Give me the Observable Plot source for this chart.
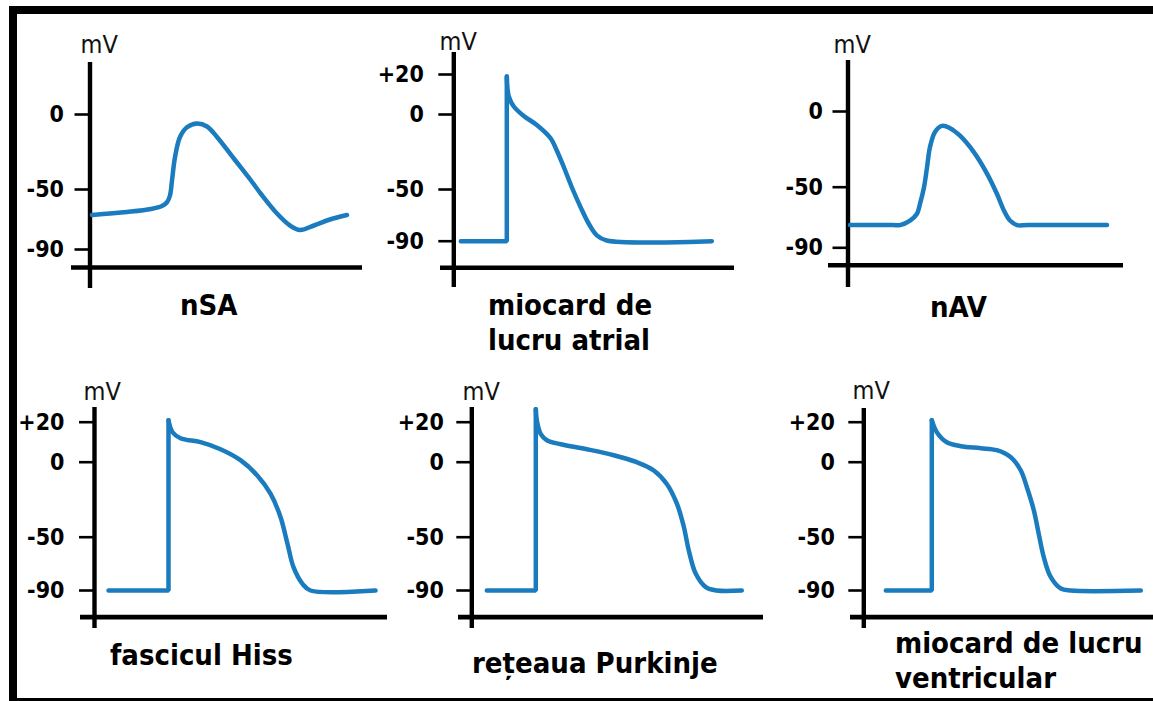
<!DOCTYPE html>
<html>
<head>
<meta charset="utf-8">
<script src="https://cdn.jsdelivr.net/npm/d3@7"></script>
<script src="https://cdn.jsdelivr.net/npm/@observablehq/plot@0.6"></script>
<style>
html, body { margin: 0; padding: 0; background: #fff; }
#stage { position: relative; width: 1153px; height: 701px; overflow: hidden; background: #fff; }
.bar { position: absolute; background: #000; }
.panel { position: absolute; }
.title { position: absolute; font-family: "DejaVu Sans Condensed", "DejaVu Sans", sans-serif; font-stretch: condensed;
  font-weight: bold; font-size: 29px; line-height: 35px; color: #000; white-space: pre; }
</style>
</head>
<body>
<div id="stage">
  <div class="bar" style="left:9px;top:6px;width:1144px;height:8px"></div>
  <div class="bar" style="left:9px;top:6px;width:8px;height:695px"></div>
  <div class="bar" style="left:9px;top:698px;width:1144px;height:3px"></div>
</div>
<script>
// ---------- DATA ----------
const panelTitles = ["nSA", "miocard de\nlucru atrial", "nAV", "fascicul Hiss", "rețeaua Purkinje", "miocard de lucru\nventricular"];
const unitLabel = "mV";

// time (arbitrary units) and membrane potential (mV) for each tissue
const nsaTime = [2, 37, 61, 72, 77, 80, 82, 85, 90, 97, 107, 117, 127, 144, 161, 171, 187, 200, 210, 224, 240, 257];
const nsaMv   = [-67, -65, -63, -61, -58.5, -54, -44, -28.5, -15, -8.5, -6, -8, -15, -29.5, -44, -53, -66, -74, -77, -74, -70, -67];

const atrialTime = [7, 53, 53, 55, 60, 70, 83, 97, 103, 110, 118, 127, 135, 143, 153, 258];
const atrialMv   = [-90, -90, 19, 9, 4, -1, -7, -16, -24, -35, -48.5, -64, -76.5, -85.5, -89.5, -90];

const navTime = [2, 45, 52, 62, 69, 72, 76, 79, 82, 87, 94, 102, 112, 126, 139, 149, 156, 162, 169, 180, 259];
const navMv   = [-75, -75, -75, -72, -67.5, -61, -50, -37, -23.5, -13.5, -9.5, -11, -16, -27, -41, -54.5, -65.5, -72, -75, -75, -75];

const hissTime = [14, 74, 74, 78, 86, 106, 126, 146, 163, 176, 186, 193, 199, 208, 216, 281];
const hissMv   = [-90, -90, 21, 15, 12, 10, 6.5, 1, -9, -21, -36.5, -55, -72.5, -85, -90, -90];

const purkinjeTime = [15, 64, 64, 65, 69, 75, 89, 115, 142, 165, 182, 195, 205, 212, 217, 224, 234, 245, 270];
const purkinjeMv   = [-90, -90, 26.5, 21, 14, 11, 9, 6.5, 3.5, 0, -5.5, -14.5, -27.5, -43, -60, -77.5, -87.5, -90, -90];

const ventrTime = [22, 68, 68, 73, 83, 97, 117, 133, 147, 157, 163, 170, 175, 180, 187, 197, 207, 277];
const ventrMv   = [-90, -90, 21, 15, 10, 8, 7, 6, 2.5, -5.5, -16.5, -32, -48, -65, -80, -88.5, -90, -90];

const ticksShort = [0, -50, -90];
const ticksLong = [20, 0, -50, -90];
const tickLabelsShort = ["0", "-50", "-90"];
const tickLabelsLong = ["+20", "0", "-50", "-90"];

// level (mV) at which the horizontal time axis is drawn
const xAxisLevel = [-102, -110.5, -101.5, -110, -110, -110];

const series = [
  {time: nsaTime, mv: nsaMv, ticks: ticksShort, labels: tickLabelsShort},
  {time: atrialTime, mv: atrialMv, ticks: ticksLong, labels: tickLabelsLong},
  {time: navTime, mv: navMv, ticks: ticksShort, labels: tickLabelsShort},
  {time: hissTime, mv: hissMv, ticks: ticksLong, labels: tickLabelsLong},
  {time: purkinjeTime, mv: purkinjeMv, ticks: ticksLong, labels: tickLabelsLong},
  {time: ventrTime, mv: ventrMv, ticks: ticksLong, labels: tickLabelsLong}
];

// ---------- LAYOUT (page pixels) ----------
const rowB = [421.7, 461.7, 536.7, 590];
const layout = [
  {left: 0,   top: 0,   w: 380, h: 350, axisX: 89.5,  axisTop: 62,  axisBottom: 288, xStart: 71,  xEnd: 362,  tickY: [114, 189, 249],          pad: 11, unit: [80, 52],  title: [180, 288]},
  {left: 380, top: 0,   w: 380, h: 350, axisX: 453.3, axisTop: 52,  axisBottom: 287, xStart: 440, xEnd: 734,  tickY: [74, 114, 189, 240.7],    pad: 15, unit: [439, 49], title: [488, 288]},
  {left: 760, top: 0,   w: 393, h: 350, axisX: 847.5, axisTop: 60,  axisBottom: 287, xStart: 828, xEnd: 1123, tickY: [111, 186.7, 247.3],      pad: 10, unit: [833, 52], title: [930, 290]},
  {left: 0,   top: 350, w: 380, h: 351, axisX: 94,    axisTop: 407, axisBottom: 628, xStart: 80,  xEnd: 387,  tickY: rowB, pad: 15, unit: [83, 399],  title: [110, 638]},
  {left: 380, top: 350, w: 380, h: 351, axisX: 471.3, axisTop: 407, axisBottom: 628, xStart: 458, xEnd: 763,  tickY: rowB, pad: 13, unit: [462, 399], title: [472, 646]},
  {left: 760, top: 350, w: 393, h: 351, axisX: 863.3, axisTop: 408, axisBottom: 628, xStart: 850, xEnd: 1153, tickY: rowB, pad: 14, unit: [852, 398], title: [895, 626]}
];

const blue = "#1a7cbf";
const fontStack = '"DejaVu Sans Condensed", "DejaVu Sans", sans-serif';
const stage = document.getElementById("stage");

series.forEach((d, i) => {
  const L = layout[i];
  const rows = d.time.map((t, j) => ({t, v: d.mv[j]}));
  let k = 0;
  for (let j = 1; j < d.time.length; j++) if (d.time[j] === d.time[j - 1]) { k = j; break; }
  const fmt = new Map(d.ticks.map((v, j) => [v, d.labels[j]]));
  const x0 = L.xStart - L.axisX, x1 = L.xEnd - L.axisX;

  const svg = Plot.plot({
    width: L.w,
    height: L.h,
    marginLeft: L.axisX - L.left,
    marginRight: L.left + L.w - L.xEnd,
    marginTop: L.axisTop - L.top,
    marginBottom: L.top + L.h - L.axisBottom,
    x: {type: "linear", domain: [x0, x1], range: [L.xStart - L.left, L.xEnd - L.left], axis: null},
    y: {type: "linear", domain: d.ticks, range: L.tickY.map(y => y - L.top)},
    style: {fontFamily: fontStack, fontStretch: "condensed", background: "transparent", overflow: "visible", color: "#000"},
    marks: [
      Plot.ruleX([0], {stroke: "#000", strokeWidth: 4.4}),
      Plot.ruleY([xAxisLevel[i]], {x1: x0, x2: x1, stroke: "#000", strokeWidth: 4.6}),
      Plot.axisY(d.ticks, {anchor: "left", tickSize: 15, tickPadding: L.pad, tickFormat: v => fmt.get(v),
        label: null, stroke: "#000", fill: "#000", strokeWidth: 2.6, fontSize: 23, fontWeight: "bold"}),
      k > 0 ? Plot.line(rows.slice(0, k + 1), {x: "t", y: "v", stroke: blue, strokeWidth: 4.5, curve: "linear", strokeLinejoin: "miter"}) : null,
      Plot.line(rows.slice(k), {x: "t", y: "v", stroke: blue, strokeWidth: 4.5, curve: "catmull-rom"}),
      Plot.text([unitLabel], {text: d => d, frameAnchor: "top-left", dx: L.unit[0] - L.axisX, dy: L.unit[1] - L.axisTop,
        textAnchor: "start", lineAnchor: "bottom", fontSize: 25, fontWeight: "normal", fill: "#111"})
    ]
  });
  const holder = document.createElement("div");
  holder.className = "panel";
  holder.style.left = L.left + "px";
  holder.style.top = L.top + "px";
  holder.style.width = L.w + "px";
  holder.style.height = L.h + "px";
  holder.appendChild(svg);
  stage.appendChild(holder);

  const t = document.createElement("div");
  t.className = "title";
  t.style.left = L.title[0] + "px";
  t.style.top = L.title[1] + "px";
  t.textContent = panelTitles[i];
  stage.appendChild(t);
});
</script>
</body>
</html>
